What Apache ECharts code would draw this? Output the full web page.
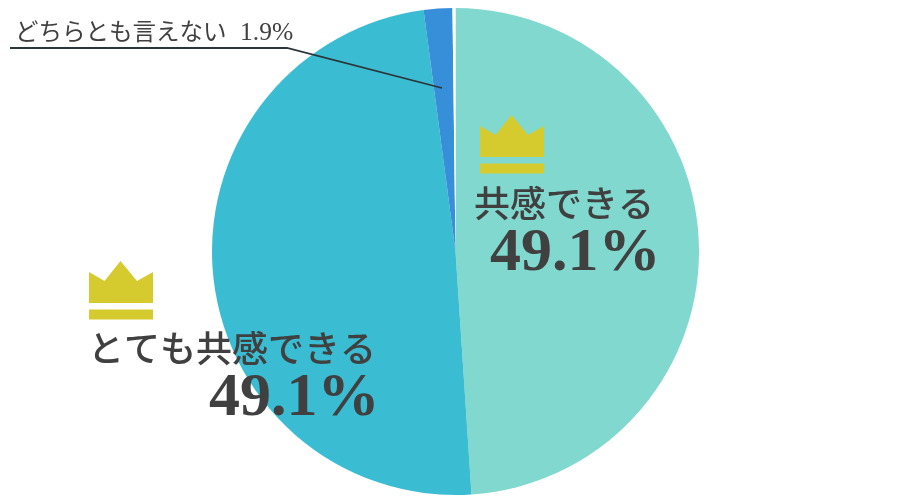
<!DOCTYPE html>
<html><head><meta charset="utf-8">
<style>html,body{margin:0;padding:0;background:#fff}#c{width:905px;height:500px}</style>
<script src="https://cdn.jsdelivr.net/npm/echarts@6/dist/echarts.min.js"></script></head>
<body><div id="c"></div>
<script>
const categories=['共感できる','とても共感できる','どちらとも言えない','その他'];
const values=[49.1,49.1,1.9,0.2];
const colors=['#80d8cf','#3abcd2','#388fd9','#ffffff'];
const font='"Noto Sans CJK JP",sans-serif';
const num='"Liberation Serif",serif';
const gold='#d5cb2e', ink='#404040';
function crown(x,y){return [
 {type:'polygon',z:100,shape:{points:[[x,y+11],[x+15.5,y+20],[x+31.5,y],[x+48,y+20],[x+64,y+11],[x+64,y+42],[x,y+42]]},style:{fill:gold}},
 {type:'rect',z:100,shape:{x:x,y:y+48.5,width:64,height:10},style:{fill:gold}}];}
const chart=echarts.init(document.getElementById('c'));
chart.setOption({animation:false,
 series:[{type:'pie',center:[455.5,251.5],radius:[0,243.5],startAngle:90,clockwise:true,silent:true,
  label:{show:false},labelLine:{show:false},
  data:categories.map((n,i)=>({name:n,value:values[i],itemStyle:{color:colors[i]}}))}],
 graphic:[
  {type:'polyline',z:100,shape:{points:[[10,48],[287,48],[442,88]]},style:{stroke:'#2b363a',lineWidth:1.8,fill:null}},
  {type:'text',z:100,x:15,y:19,style:{text:categories[2],font:'400 23.5px '+font,fill:ink}},
  {type:'text',z:100,x:240,y:20,style:{text:values[2]+'%',font:'400 25.5px '+num,fill:ink}},
  ...crown(480,115),...crown(89,261),
  {type:'text',z:100,x:474,y:185,style:{text:categories[0],font:'500 36px '+font,fill:ink}},
  {type:'text',z:100,x:490,y:223,style:{text:values[0]+'%',font:'700 62px '+num,fill:ink}},
  {type:'text',z:100,x:88,y:330,style:{text:categories[1],font:'500 36px '+font,fill:ink}},
  {type:'text',z:100,x:209,y:368,style:{text:values[1]+'%',font:'700 62px '+num,fill:ink}}
 ]});
</script></body></html>
